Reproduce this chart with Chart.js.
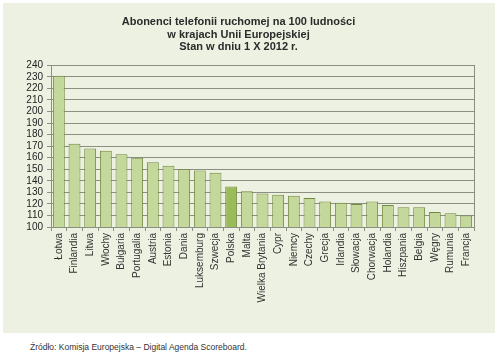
<!DOCTYPE html>
<html>
<head>
<meta charset="utf-8">
<script src="https://cdn.jsdelivr.net/npm/chart.js@4.4.0/dist/chart.umd.min.js"></script>
<style>
  html, body { margin: 0; padding: 0; background: #ffffff; }
  body { width: 500px; height: 359px; position: relative; overflow: hidden; font-family: 'Liberation Sans', Arial, sans-serif; }
  #panel { position: absolute; left: 3px; top: 3px; width: 492px; height: 330px; background: #edf1e1; }
  #source { position: absolute; left: 30px; top: 342px; font-size: 8.5px; color: #333; }
</style>
</head>
<body>
<div id="panel"><canvas id="chart" width="492" height="330"></canvas></div>
<div id="source">Źródło: Komisja Europejska – Digital Agenda Scoreboard.</div>
<script>
const countries = ['Łotwa', 'Finlandia', 'Litwa', 'Włochy', 'Bułgaria', 'Portugalia', 'Austria', 'Estonia',
  'Dania', 'Luksemburg', 'Szwecja', 'Polska', 'Malta', 'Wielka Brytania', 'Cypr', 'Niemcy', 'Czechy',
  'Grecja', 'Irlandia', 'Słowacja', 'Chorwacja', 'Holandia', 'Hiszpania', 'Belgia', 'Węgry', 'Rumunia', 'Francja'];
const subscribers = [231, 172, 168, 166, 163, 160, 156, 153, 150, 149, 147, 135, 131, 129, 128, 127, 125,
  122, 121, 120, 122, 119, 117, 117, 113, 112, 110];
const titleLines = ['Abonenci telefonii ruchomej na 100 ludności', 'w krajach Unii Europejskiej', 'Stan w dniu 1 X 2012 r.'];
const highlight = 'Polska';

const fills = countries.map(c => c === highlight ? '#9bbb59' : '#c4d89b');

// frame round the plot area
const plotFrame = {
  id: 'plotFrame',
  afterDraw(chart) {
    const { ctx, chartArea: a } = chart;
    ctx.save();
    ctx.strokeStyle = '#8a8f82';
    ctx.lineWidth = 1;
    ctx.strokeRect(Math.round(a.left) + 0.5, Math.round(a.top) + 0.5, Math.round(a.right - a.left), Math.round(a.bottom - a.top));
    ctx.restore();
  }
};

new Chart(document.getElementById('chart'), {
  type: 'bar',
  data: {
    labels: countries,
    datasets: [{
      data: subscribers,
      backgroundColor: fills,
      borderColor: '#73893f',
      borderWidth: 1,
      barPercentage: 0.76,
      categoryPercentage: 1
    }]
  },
  options: {
    responsive: false,
    animation: false,
    layout: { padding: { left: 0, right: 21, top: 0, bottom: 0 } },
    plugins: {
      legend: { display: false },
      tooltip: { enabled: false },
      title: {
        display: true,
        text: titleLines,
        color: '#2b2b2b',
        font: { family: 'Liberation Sans', size: 11, weight: 'bold', lineHeight: 1.13 },
        padding: { top: 13, bottom: 12 }
      }
    },
    scales: {
      x: {
        grid: { display: true, drawOnChartArea: false, drawTicks: true, tickLength: 4, offset: true, color: '#8a8f82' },
        border: { color: '#8a8f82' },
        ticks: {
          minRotation: 90, maxRotation: 90, autoSkip: false, padding: 2,
          color: '#333', font: { family: 'Liberation Sans', size: 10 }
        },
        afterFit(scale) { scale.height = 106; }
      },
      y: {
        min: 100, max: 240,
        grid: { color: '#8a8f82', tickLength: 4 },
        border: { color: '#8a8f82' },
        ticks: {
          stepSize: 10, autoSkip: false, padding: 4,
          color: '#222', font: { family: 'Liberation Sans', size: 10 }
        },
        afterFit(scale) { scale.width = 48; }
      }
    }
  },
  plugins: [plotFrame]
});
</script>
</body>
</html>
